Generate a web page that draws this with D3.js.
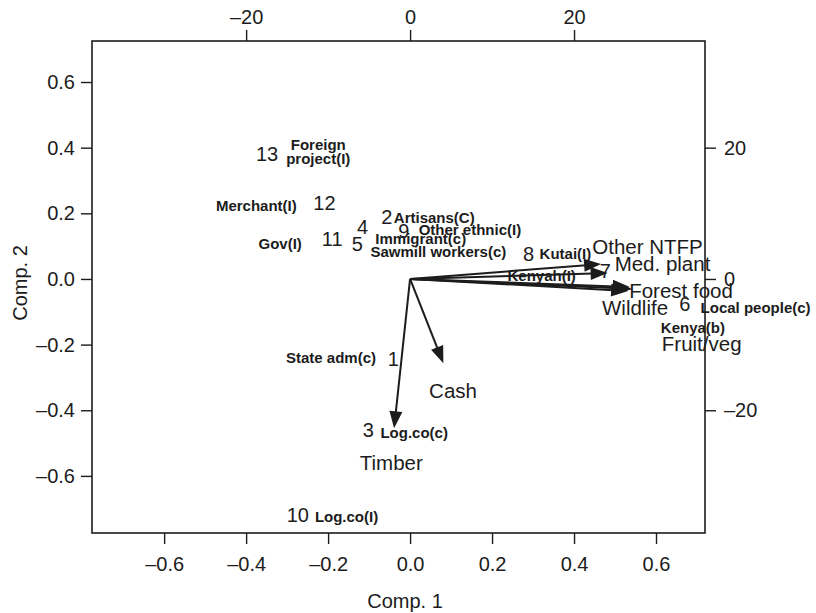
<!DOCTYPE html>
<html>
<head>
<meta charset="utf-8">
<script src="https://cdn.jsdelivr.net/npm/d3@7"></script>
<style>
  html, body { margin: 0; padding: 0; background: #fff; }
  svg { display: block; font-family: "Liberation Sans", Arial, Helvetica, sans-serif; }
  text { fill: #1c1c1c; }
</style>
</head>
<body>
<svg id="chart" width="816" height="613"></svg>
<script>
// ---- Observation scores (Comp. 1, Comp. 2) labelled by number ----
const obsIds = ["1","2","3","4","5","6","7","8","9","10","11","12","13"];
const obsX = [-0.041, -0.057, -0.102, -0.116, -0.129, 0.670, 0.476, 0.289, -0.015, -0.274, -0.190, -0.209, -0.349];
const obsY = [-0.242, 0.188, -0.461, 0.158, 0.107, -0.076, 0.024, 0.076, 0.146, -0.720, 0.122, 0.231, 0.382];

// ---- Stakeholder group annotations (in score units) ----
const groupNames = ["Foreign|project(I)", "Merchant(I)", "Artisans(C)", "Other ethnic(I)", "Gov(I)",
  "Immigrant(c)", "Sawmill workers(c)", "Kutai(I)", "Kenyah(I)", "Local people(c)", "Kenya(b)",
  "State adm(c)", "Log.co(c)", "Log.co(I)"];
const groupX = [-0.224, -0.375, 0.059, 0.146, -0.317, 0.026, 0.069, 0.379, 0.321, 0.843, 0.690, -0.193, 0.010, -0.155];
const groupY = [0.388, 0.225, 0.186, 0.149, 0.108, 0.122, 0.083, 0.076, 0.010, -0.088, -0.149, -0.241, -0.469, -0.725];

// ---- Variable loadings (top / right scale): arrow tips ----
const varNames = ["Other NTFP", "Med. plant", "Forest food", "Wildlife", "Fruit/veg", "Cash", "Timber"];
const varX = [23.3, 24.1, 27.1, 26.6, 26.8, 4.06, -1.95];
const varY = [2.28, 0.91, -1.52, -1.83, -1.22, -12.84, -22.74];
// label anchor for each variable (same scale)
const varLabX = [28.96, 30.79, 33.05, 27.44, 35.57, 5.24, -2.29];
const varLabY = [4.95, 2.28, -1.83, -4.42, -9.90, -17.06, -27.95];

// ---- Tick values ----
const ticksBottom = [-0.6, -0.4, -0.2, 0.0, 0.2, 0.4, 0.6];
const ticksLeft = [-0.6, -0.4, -0.2, 0.0, 0.2, 0.4, 0.6];
const ticksTop = [-20, 0, 20];
const ticksRight = [-20, 0, 20];

const svg = d3.select("#chart");
const box = { left: 92, right: 705, top: 41, bottom: 533 };
const ratio = 50; // loadings scale relative to score scale

const xDom = [-0.776, 0.7195], yDom = [0.725, -0.774];
const x = d3.scaleLinear().domain(xDom).range([box.left, box.right]);
const y = d3.scaleLinear().domain(yDom).range([box.top, box.bottom]);
const x2 = d3.scaleLinear().domain(xDom.map(v => v * ratio)).range([box.left, box.right]);
const y2 = d3.scaleLinear().domain(yDom.map(v => v * ratio)).range([box.top, box.bottom]);

const dash = s => s.replace(/[-\u2212]/g, "\u2013");
const fmt1 = d => dash(d3.format(".1f")(d));
const fmt0 = d => dash(d3.format("d")(d));

function styleAxis(g) {
  g.select(".domain").remove();
  g.selectAll(".tick line").attr("stroke", "#1c1c1c").attr("stroke-width", 1.4);
  g.selectAll(".tick text").attr("font-size", 20).attr("fill", "#1c1c1c")
    .attr("font-family", "'Liberation Sans', Arial, sans-serif");
}

svg.append("g").attr("transform", `translate(0,${box.bottom})`)
  .call(d3.axisBottom(x).tickValues(ticksBottom).tickSize(11).tickPadding(13).tickFormat(fmt1))
  .call(styleAxis);
svg.append("g").attr("transform", `translate(${box.left},0)`)
  .call(d3.axisLeft(y).tickValues(ticksLeft).tickSize(11).tickPadding(6).tickFormat(fmt1))
  .call(styleAxis);
svg.append("g").attr("transform", `translate(0,${box.top})`)
  .call(d3.axisTop(x2).tickValues(ticksTop).tickSize(11).tickPadding(6).tickFormat(fmt0))
  .call(styleAxis);
svg.append("g").attr("transform", `translate(${box.right},0)`)
  .call(d3.axisRight(y2).tickValues(ticksRight).tickSize(11).tickPadding(8).tickFormat(fmt0))
  .call(styleAxis);

// plot frame
svg.append("rect")
  .attr("x", box.left).attr("y", box.top)
  .attr("width", box.right - box.left).attr("height", box.bottom - box.top)
  .attr("fill", "none").attr("stroke", "#1c1c1c").attr("stroke-width", 1.6);

// axis titles
svg.append("text").attr("x", 405).attr("y", 608).attr("text-anchor", "middle")
  .attr("font-size", 20).text("Comp. 1");
svg.append("text").attr("transform", "translate(27,283) rotate(-90)").attr("text-anchor", "middle")
  .attr("font-size", 20).text("Comp. 2");

// variable arrows
const ox = x2(0), oy = y2(0);
const arrows = svg.append("g");
varNames.forEach((name, i) => {
  const tx = x2(varX[i]), ty = y2(varY[i]);
  const dx = tx - ox, dy = ty - oy, len = Math.hypot(dx, dy);
  const ux = dx / len, uy = dy / len;
  const L = 17, W = 6.5;
  const bx = tx - ux * L, by = ty - uy * L;
  arrows.append("line").attr("x1", ox).attr("y1", oy).attr("x2", bx + ux * 2).attr("y2", by + uy * 2)
    .attr("stroke", "#1c1c1c").attr("stroke-width", 2);
  arrows.append("path")
    .attr("d", `M${tx},${ty}L${bx - uy * W},${by + ux * W}L${bx + uy * W},${by - ux * W}Z`)
    .attr("fill", "#1c1c1c");
});

// variable labels
svg.append("g").selectAll("text").data(varNames).join("text")
  .attr("x", (d, i) => x2(varLabX[i]))
  .attr("y", (d, i) => y2(varLabY[i]))
  .attr("dy", "0.36em")
  .attr("text-anchor", "middle")
  .attr("font-size", 20.5)
  .text(d => d);

// observation numbers
svg.append("g").selectAll("text").data(obsIds).join("text")
  .attr("x", (d, i) => x(obsX[i]))
  .attr("y", (d, i) => y(obsY[i]))
  .attr("dy", "0.36em")
  .attr("text-anchor", "middle")
  .attr("font-size", 20)
  .text(d => d);

// group annotations (bold)
const gl = svg.append("g");
groupNames.forEach((name, i) => {
  const lines = name.split("|");
  const t = gl.append("text")
    .attr("x", x(groupX[i])).attr("y", y(groupY[i]))
    .attr("text-anchor", "middle")
    .attr("font-size", 15).attr("font-weight", "bold");
  const lh = 13.5;
  lines.forEach((ln, k) => {
    t.append("tspan").attr("x", x(groupX[i]))
      .attr("dy", k === 0 ? `${0.36 * 15 - (lines.length - 1) * lh / 2}px` : `${lh}px`)
      .text(ln);
  });
});
</script>
</body>
</html>
